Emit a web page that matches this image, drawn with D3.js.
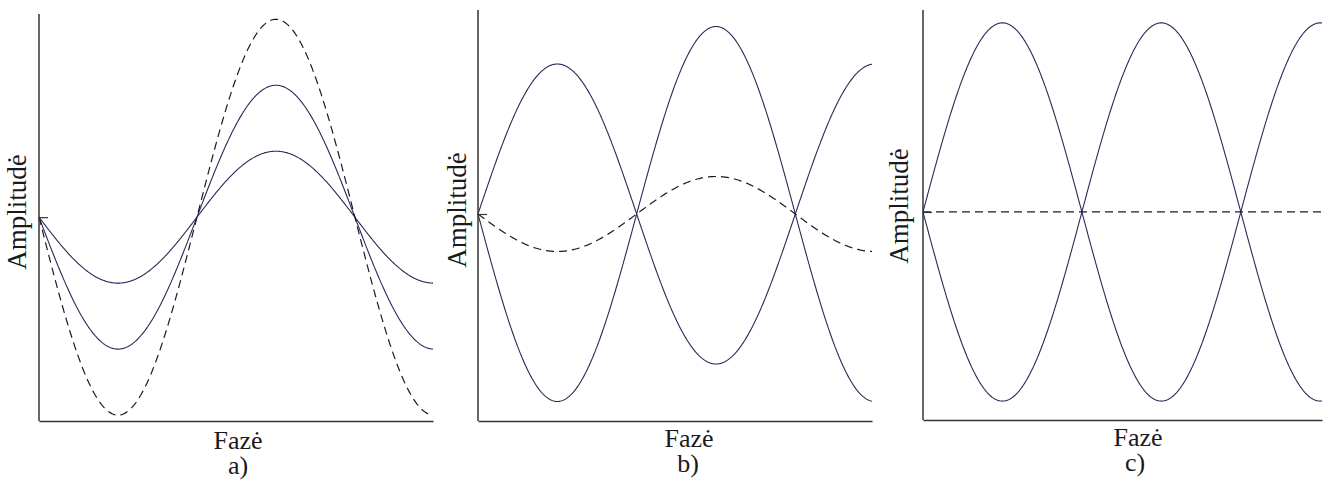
<!DOCTYPE html>
<html>
<head>
<meta charset="utf-8">
<script src="https://cdn.jsdelivr.net/npm/d3@7"></script>
<style>
  html, body { margin: 0; padding: 0; background: #fff; }
  svg { display: block; }
  svg text { font-family: "Liberation Serif", "Times New Roman", Tinos, serif; }
</style>
</head>
<body>
<svg id="chart" width="1330" height="480"></svg>
<script>
// Panel identifiers and captions
const panels = ["a)", "b)", "c)"];
const xTitle = "Fazė";
const yTitle = "Amplitudė";

// Phase span drawn in each panel (degrees)
const phaseEnd = [449, 447, 452];

// Amplitude axis limits per panel (relative units)
const yMin = [-3.09, -5.52, -5.5];
const yMax = [3.08, 5.44, 5.34];

// Wave amplitudes (relative units); the resulting wave is dashed
const ampA = [-1, 4, 5];        // first component wave
const ampB = [-2, -5, -5];      // second component wave
const ampSum = [-3, -1, 0];     // resulting (superposed) wave

// Layout of each panel in pixels
const frames = [
  { left: 39,  right: 433,  top: 14, bottom: 421, yLabelX: 26,  yLabelY: 212, xLabelX: 238,  xLabelY: 449, capX: 238,  capY: 474 },
  { left: 478, right: 872,  top: 10, bottom: 421, yLabelX: 466, yLabelY: 210, xLabelX: 689,  xLabelY: 447, capX: 688,  capY: 472 },
  { left: 923, right: 1322, top: 10, bottom: 420, yLabelX: 908, yLabelY: 206, xLabelX: 1138, xLabelY: 446, capX: 1135, capY: 471 }
];

const svg = d3.select("#chart");
const waveColor = "#2a2a58";
const axisColor = "#333";

panels.forEach((cap, i) => {
  const f = frames[i];
  const x = d3.scaleLinear().domain([0, phaseEnd[i]]).range([f.left, f.right]);
  const y = d3.scaleLinear().domain([yMin[i], yMax[i]]).range([f.bottom, f.top]);
  const g = svg.append("g");

  const phases = d3.range(0, phaseEnd[i] + 0.5, 1);
  const wave = amp => phases.map(p => ({ p, v: amp * Math.sin(p * Math.PI / 180) }));
  const line = d3.line().x(d => x(d.p)).y(d => y(d.v));

  // component waves
  [ampA[i], ampB[i]].forEach(a => {
    g.append("path")
      .datum(wave(a))
      .attr("d", line)
      .attr("fill", "none")
      .attr("stroke", waveColor)
      .attr("stroke-width", 1.1);
  });

  // resulting wave
  g.append("path")
    .datum(wave(ampSum[i]))
    .attr("d", line)
    .attr("fill", "none")
    .attr("stroke", "#1a1a2a")
    .attr("stroke-width", 1.2)
    .attr("stroke-dasharray", "8,5");

  // y axis with a single inward tick at zero
  const yAxis = d3.axisRight(y).tickValues([0]).tickSize(9).tickFormat("");
  const ya = g.append("g").attr("transform", `translate(${f.left},0)`).call(yAxis);
  ya.select(".domain").remove();
  ya.selectAll(".tick line").attr("stroke", axisColor).attr("stroke-width", 1.2);
  g.append("line")
    .attr("x1", f.left).attr("x2", f.left)
    .attr("y1", f.top).attr("y2", f.bottom)
    .attr("stroke", axisColor).attr("stroke-width", 1.5);

  // x axis
  const xAxis = d3.axisBottom(x).tickValues([]).tickSizeOuter(0);
  const xa = g.append("g").attr("transform", `translate(0,${f.bottom})`).call(xAxis);
  xa.select(".domain").attr("stroke", axisColor).attr("stroke-width", 1.5);

  // y title
  g.append("text")
    .attr("transform", `translate(${f.yLabelX},${f.yLabelY}) rotate(-90)`)
    .style("font-size", "27px")
    .attr("fill", "#1a1a1a")
    .attr("text-anchor", "middle")
    .text(yTitle);

  // x title with the panel caption as its second line
  const t = g.append("text")
    .style("font-size", "26px")
    .attr("fill", "#1a1a1a")
    .attr("text-anchor", "middle");
  t.append("tspan").attr("x", f.xLabelX).attr("y", f.xLabelY).text(xTitle);
  t.append("tspan").attr("x", f.capX).attr("y", f.capY).text(cap);
});
</script>
</body>
</html>
